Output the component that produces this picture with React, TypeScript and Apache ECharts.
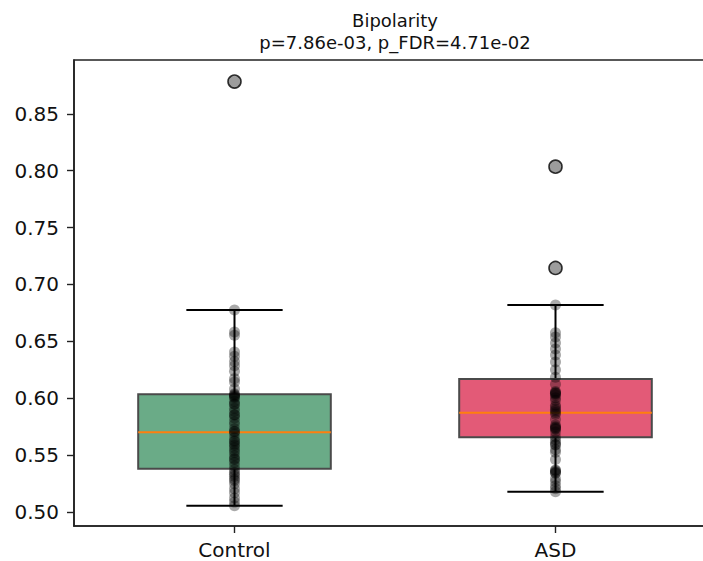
import React, { useEffect, useRef } from "react";
import * as echarts from "echarts";

// Group names on the x axis
const categories = ["Control", "ASD"];

// Box statistics: [lower whisker, Q1, median, Q3, upper whisker]
const controlStats = [0.5054, 0.5379, 0.5699, 0.6033, 0.6775];
const asdStats = [0.5177, 0.5655, 0.5872, 0.6168, 0.6819];

// Points beyond the whiskers
const controlOutliers = [0.8783];
const asdOutliers = [0.8035, 0.7144];

// Individual subject values
const controlValues = [
  0.5054, 0.5085, 0.5121, 0.5168, 0.5203, 0.5247, 0.5275, 0.5289, 0.5312, 0.5331,
  0.5348, 0.5371, 0.5402, 0.5436, 0.5459, 0.5469, 0.5493, 0.5521, 0.5538, 0.5562,
  0.5583, 0.5597, 0.5617, 0.5624, 0.5651, 0.5687, 0.5703, 0.5709, 0.5731, 0.5768,
  0.5792, 0.5825, 0.5852, 0.5853, 0.5884, 0.5911, 0.5946, 0.5948, 0.5972, 0.6004,
  0.6012, 0.6021, 0.6029, 0.6038, 0.6079, 0.6142, 0.6171, 0.6235, 0.6284, 0.6322,
  0.6368, 0.6405, 0.6552, 0.6581, 0.6775, 0.8783,
];
const asdValues = [
  0.5177, 0.5203, 0.5229, 0.5264, 0.5291, 0.5338, 0.5346, 0.5352, 0.5364, 0.5367,
  0.5459, 0.5523, 0.5548, 0.5587, 0.5591, 0.5612, 0.5634, 0.5659, 0.5702, 0.5728,
  0.5733, 0.5741, 0.5748, 0.5763, 0.5812, 0.5857, 0.5874, 0.5889, 0.5902, 0.5921,
  0.5936, 0.5981, 0.6002, 0.6027, 0.6039, 0.6043, 0.6048, 0.6058, 0.6121, 0.6183,
  0.6249, 0.6318, 0.6379, 0.6432, 0.6484, 0.6537, 0.6575, 0.6819, 0.7144, 0.8035,
];

// Y axis tick positions
const yTicks = [0.5, 0.55, 0.6, 0.65, 0.7, 0.75, 0.8, 0.85];

const titleLine1 = "Bipolarity";
const titleLine2 = "p=7.86e-03, p_FDR=4.71e-02";

const boxFills = ["#6aab87", "#e35a77"];
const FONT = "DejaVu Sans";

export default function App() {
  const ref = useRef<HTMLDivElement>(null);

  useEffect(() => {
    if (!ref.current) return;
    const chart = echarts.init(ref.current, null, { renderer: "svg" });

    const boxRows = [controlStats, asdStats].map((s, i) => [i, ...s]);
    const pointRows = [
      ...controlValues.map((v) => [0, v]),
      ...asdValues.map((v) => [1, v]),
    ];
    const outlierRows = [
      ...controlOutliers.map((v) => [0, v]),
      ...asdOutliers.map((v) => [1, v]),
    ];

    // Plot area runs past the right edge of the canvas
    const gridLeft = 74;
    const gridWidth = 642;
    const gridTop = 60;
    const gridHeight = 466;
    const axisCenterX = gridLeft + gridWidth / 2;

    chart.setOption({
      animation: false,
      backgroundColor: "#ffffff",
      grid: {
        left: gridLeft,
        top: gridTop,
        width: gridWidth,
        height: gridHeight,
        outerBoundsMode: "none",
        containLabel: false,
        show: true,
        borderColor: "#222222",
        borderWidth: 1.6,
        backgroundColor: "transparent",
      },
      graphic: [
        {
          type: "text",
          x: axisCenterX,
          y: 20,
          style: {
            text: titleLine1,
            fontFamily: FONT,
            fontSize: 18,
            fill: "#111111",
            textAlign: "center",
            textVerticalAlign: "middle",
          },
        },
        {
          type: "text",
          x: axisCenterX,
          y: 42,
          style: {
            text: titleLine2,
            fontFamily: FONT,
            fontSize: 18,
            fill: "#111111",
            textAlign: "center",
            textVerticalAlign: "middle",
          },
        },
      ],
      xAxis: {
        type: "category",
        data: categories,
        boundaryGap: true,
        axisLine: { show: true, lineStyle: { color: "#222222", width: 1.6 } },
        axisTick: { show: true, alignWithLabel: true, length: 7, lineStyle: { color: "#222222", width: 1.4 } },
        axisLabel: { fontFamily: FONT, fontSize: 20, color: "#111111", margin: 14 },
        splitLine: { show: false },
      },
      yAxis: {
        type: "value",
        min: 0.4875,
        max: 0.8973,
        axisLine: { show: true, lineStyle: { color: "#222222", width: 1.6 } },
        axisTick: {
          show: true,
          length: 7,
          customValues: yTicks,
          lineStyle: { color: "#222222", width: 1.4 },
        },
        axisLabel: {
          fontFamily: FONT,
          fontSize: 20,
          color: "#111111",
          margin: 15,
          customValues: yTicks,
          formatter: (v: number) => v.toFixed(2),
        },
        splitLine: { show: false },
      },
      series: [
        {
          type: "custom",
          data: boxRows,
          z: 2,
          renderItem: (params: any, api: any) => {
            const idx = api.value(0);
            const lo = api.value(1);
            const q1 = api.value(2);
            const med = api.value(3);
            const q3 = api.value(4);
            const hi = api.value(5);
            const cx = api.coord([idx, med])[0];
            const yLo = api.coord([idx, lo])[1];
            const yQ1 = api.coord([idx, q1])[1];
            const yMed = api.coord([idx, med])[1];
            const yQ3 = api.coord([idx, q3])[1];
            const yHi = api.coord([idx, hi])[1];
            const band = api.size([1, 0])[0];
            const half = band * 0.3;
            const capHalf = band * 0.15;
            const black = { stroke: "#000000", lineWidth: 2 };
            return {
              type: "group",
              children: [
                {
                  type: "line",
                  shape: { x1: cx, y1: yQ3, x2: cx, y2: yHi },
                  style: black,
                },
                {
                  type: "line",
                  shape: { x1: cx, y1: yQ1, x2: cx, y2: yLo },
                  style: black,
                },
                {
                  type: "line",
                  shape: { x1: cx - capHalf, y1: yHi, x2: cx + capHalf, y2: yHi },
                  style: black,
                },
                {
                  type: "line",
                  shape: { x1: cx - capHalf, y1: yLo, x2: cx + capHalf, y2: yLo },
                  style: black,
                },
                {
                  type: "rect",
                  shape: { x: cx - half, y: yQ3, width: half * 2, height: yQ1 - yQ3 },
                  style: { fill: boxFills[idx], stroke: "#4a4a4a", lineWidth: 2 },
                },
                {
                  type: "line",
                  shape: { x1: cx - half, y1: yMed, x2: cx + half, y2: yMed },
                  style: { stroke: "#ff7f0e", lineWidth: 2 },
                },
              ],
            };
          },
        },
        {
          type: "scatter",
          data: pointRows,
          z: 3,
          symbol: "circle",
          symbolSize: 11,
          itemStyle: { color: "rgba(0,0,0,0.42)" },
        },
        {
          type: "scatter",
          data: outlierRows,
          z: 4,
          symbol: "circle",
          symbolSize: 13,
          itemStyle: { color: "#999999", borderColor: "#000000", borderWidth: 1.6 },
        },
      ],
    });

    return () => chart.dispose();
  }, []);

  return (
    <div
      ref={ref}
      style={{ position: "fixed", left: 0, top: 0, width: 703, height: 561 }}
    />
  );
}
